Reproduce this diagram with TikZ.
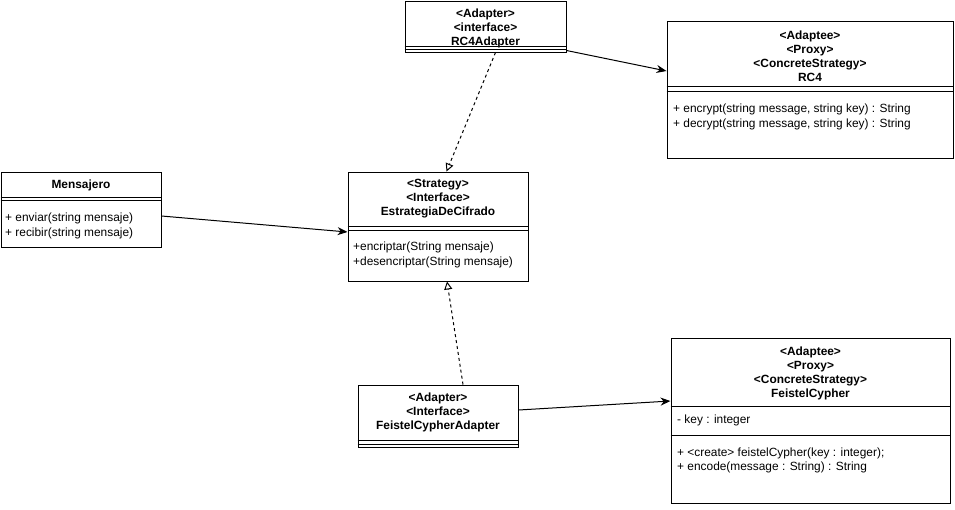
\documentclass[tikz,border=0pt]{standalone}
\usepackage{fontspec}
\setmainfont{Liberation Sans}
\usetikzlibrary{arrows.meta, positioning}

\begin{document}
\begin{tikzpicture}[
  x=1pt, y=-1pt,
  every node/.style={font=\fontsize{11.9}{14.5}\selectfont, inner sep=0pt},
  classbox/.style={rectangle, draw, line width=1pt},
  title/.style={font=\fontsize{11.9}{14}\selectfont\bfseries, align=center},
  member/.style={anchor=west, align=left},
  assoc/.style={-{Stealth[length=10pt, width=8pt]}, line width=1pt},
  realize/.style={-{Triangle[open, length=8pt, width=8pt]}, line width=1pt, dash pattern=on 3pt off 3pt},
]
\useasboundingbox (0,0) rectangle (955,509);

% Adapter for RC4
\node[classbox, minimum width=161pt, minimum height=51pt] (rc4adapter) at (485.5, 26.5) {};
\node[title] (rc4adaptertitle) at (485.5, 28) {<Adapter>\\<interface>\\RC4Adapter};
\draw (rc4adapter.west |- 0,46) -- (rc4adapter.east |- 0,46);
\draw (rc4adapter.west |- 0,49) -- (rc4adapter.east |- 0,49);

% RC4
\node[classbox, minimum width=286pt, minimum height=137pt] (rc4) at (810, 89.5) {};
\node[title] (rc4title) at (810, 56) {<Adaptee>\\<Proxy>\\<ConcreteStrategy>\\RC4};
\draw (rc4.west |- 0,86) -- (rc4.east |- 0,86);
\draw (rc4.west |- 0,91) -- (rc4.east |- 0,91);
\node[member] (rc4ops) at (673, 117) {+ encrypt(string message, string key) : String\\+ decrypt(string message, string key) : String};

% Mensajero
\node[classbox, minimum width=160pt, minimum height=75pt] (mensajero) at (81, 209.5) {};
\node[title] (mensajerotitle) at (81, 185) {Mensajero};
\draw (mensajero.west |- 0,197) -- (mensajero.east |- 0,197);
\draw (mensajero.west |- 0,200.5) -- (mensajero.east |- 0,200.5);
\node[member] (mensajeroops) at (5, 226) {+ enviar(string mensaje)\\+ recibir(string mensaje)};

% Strategy
\node[classbox, minimum width=180pt, minimum height=109pt] (strategy) at (438, 226.5) {};
\node[title] (strategytitle) at (438, 199) {<Strategy>\\<Interface>\\EstrategiaDeCifrado};
\draw (strategy.west |- 0,226) -- (strategy.east |- 0,226);
\draw (strategy.west |- 0,230) -- (strategy.east |- 0,230);
\node[member] (strategyops) at (353, 255) {+encriptar(String mensaje)\\+desencriptar(String mensaje)};

% Adapter for FeistelCypher
\node[classbox, minimum width=160pt, minimum height=62pt] (feisteladapter) at (438, 416) {};
\node[title] (feisteladaptertitle) at (438, 412) {<Adapter>\\<Interface>\\FeistelCypherAdapter};
\draw (feisteladapter.west |- 0,440) -- (feisteladapter.east |- 0,440);
\draw (feisteladapter.west |- 0,444) -- (feisteladapter.east |- 0,444);

% FeistelCypher
\node[classbox, minimum width=279pt, minimum height=165pt] (feistel) at (810.5, 420.5) {};
\node[title] (feisteltitle) at (810.5, 373) {<Adaptee>\\<Proxy>\\<ConcreteStrategy>\\FeistelCypher};
\draw (feistel.west |- 0,406) -- (feistel.east |- 0,406);
\node[member] (feistelattr) at (677, 420.5) {- key : integer};
\draw (feistel.west |- 0,435) -- (feistel.east |- 0,435);
\node[member] (feistelops) at (677, 460.5) {+ <create> feistelCypher(key : integer);\\+ encode(message : String) : String};

% Connectors
\draw[assoc] ([yshift=2pt]rc4adapter.south east) -- ([yshift=18.5pt]rc4.west);
\draw[realize] ([xshift=10pt]rc4adapter.south) -- ([xshift=8.5pt]strategy.north);
\draw[assoc] ([yshift=-6.5pt]mensajero.east) -- ([yshift=-5.5pt]strategy.west);
\draw[realize] ([xshift=25pt]feisteladapter.north) -- ([xshift=9pt]strategy.south);
\draw[assoc] ([yshift=6pt]feisteladapter.east) -- ([yshift=19.5pt]feistel.west);

\end{tikzpicture}
\end{document}
